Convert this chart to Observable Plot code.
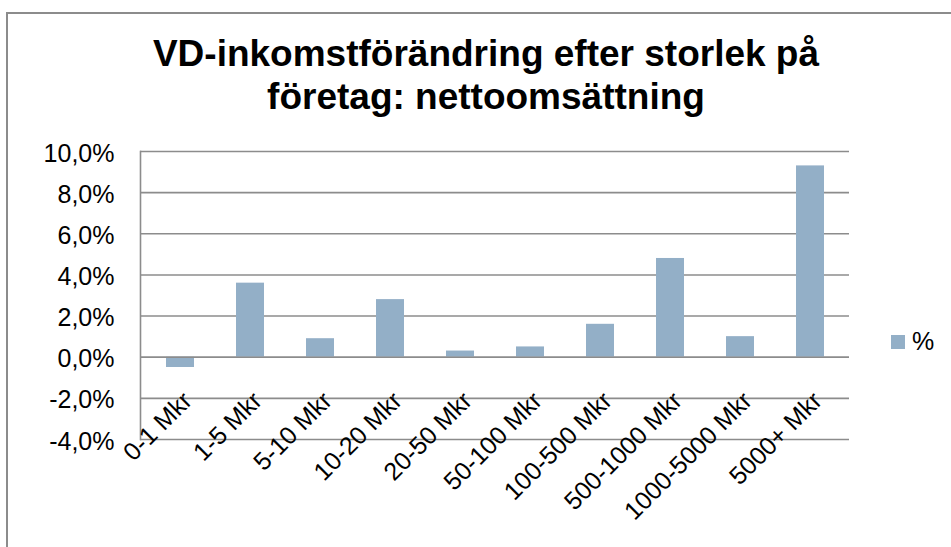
<!DOCTYPE html>
<html>
<head>
<meta charset="utf-8">
<script src="https://cdn.jsdelivr.net/npm/d3@7"></script>
<script src="https://cdn.jsdelivr.net/npm/@observablehq/plot@0.6"></script>
<style>
  html, body { margin: 0; padding: 0; background: #fff; }
  #wrap { position: relative; width: 951px; height: 547px; overflow: hidden; font-family: "Liberation Sans", Arial, sans-serif; }
  #border { position: absolute; left: 6px; top: 12px; width: 960px; height: 560px; border-left: 2px solid #8c8c8c; border-top: 2px solid #8c8c8c; box-sizing: border-box; }
  #title { position: absolute; left: 21px; width: 930px; top: 32px; text-align: center; font-weight: bold; font-size: 37px; line-height: 43px; color: #000; }
  #chart { position: absolute; left: 0; top: 0; }
  #legend { position: absolute; left: 891px; top: 327px; display: flex; align-items: center; font-size: 25px; color: #000; }
  #legend .sw { width: 14px; height: 14px; margin-right: 7px; }
</style>
</head>
<body>
<div id="wrap">
  <div id="border"></div>
  <div id="chart"></div>
  <div id="title">VD-inkomstförändring efter storlek på<br>företag: nettoomsättning</div>
  <div id="legend"><div class="sw"></div><span>%</span></div>
</div>
<script>
const categories = ["0-1 Mkr", "1-5 Mkr", "5-10 Mkr", "10-20 Mkr", "20-50 Mkr", "50-100 Mkr", "100-500 Mkr", "500-1000 Mkr", "1000-5000 Mkr", "5000+ Mkr"];
const values = [-0.5, 3.6, 0.9, 2.8, 0.3, 0.5, 1.6, 4.8, 1.0, 9.3];
const yTicks = [-4, -2, 0, 2, 4, 6, 8, 10];
const seriesName = "%";
const barColor = "#93afc7";
const gridColor = "#8c8c8c";

const data = categories.map((c, i) => ({cat: c, value: values[i]}));
document.querySelector("#legend .sw").style.background = barColor;
document.querySelector("#legend span").textContent = seriesName;

const fmt = d => d.toFixed(1).replace(".", ",") + "%";

const plot = Plot.plot({
  width: 951,
  height: 547,
  marginLeft: 140,
  marginRight: 102,
  marginTop: 151,
  marginBottom: 108,
  style: {fontFamily: "'Liberation Sans', Arial, sans-serif", fontSize: "25px", color: "#000", background: "transparent", overflow: "visible"},
  x: {type: "band", domain: categories, paddingInner: 0.6, paddingOuter: 0.3, axis: null},
  y: {domain: [-4, 10], axis: null},
  marks: [
    Plot.ruleY(yTicks, {stroke: gridColor, strokeWidth: 1.6}),
    Plot.frame({anchor: "left", stroke: gridColor, strokeWidth: 1.6}),
    Plot.barY(data, {x: "cat", y: "value", fill: barColor}),
    Plot.ruleY([0], {stroke: gridColor, strokeWidth: 1.6}),
    Plot.axisY(yTicks, {tickSize: 0, tickPadding: 26, tickFormat: fmt, fontSize: 25, dy: 2, fill: "#000", label: null}),
    Plot.text(categories, {x: d => d, y: () => -2, rotate: -45, textAnchor: "end", lineAnchor: "bottom", dx: 13, dy: 4, fontSize: 25, fill: "#000"})
  ]
});
document.getElementById("chart").appendChild(plot);
</script>
</body>
</html>
